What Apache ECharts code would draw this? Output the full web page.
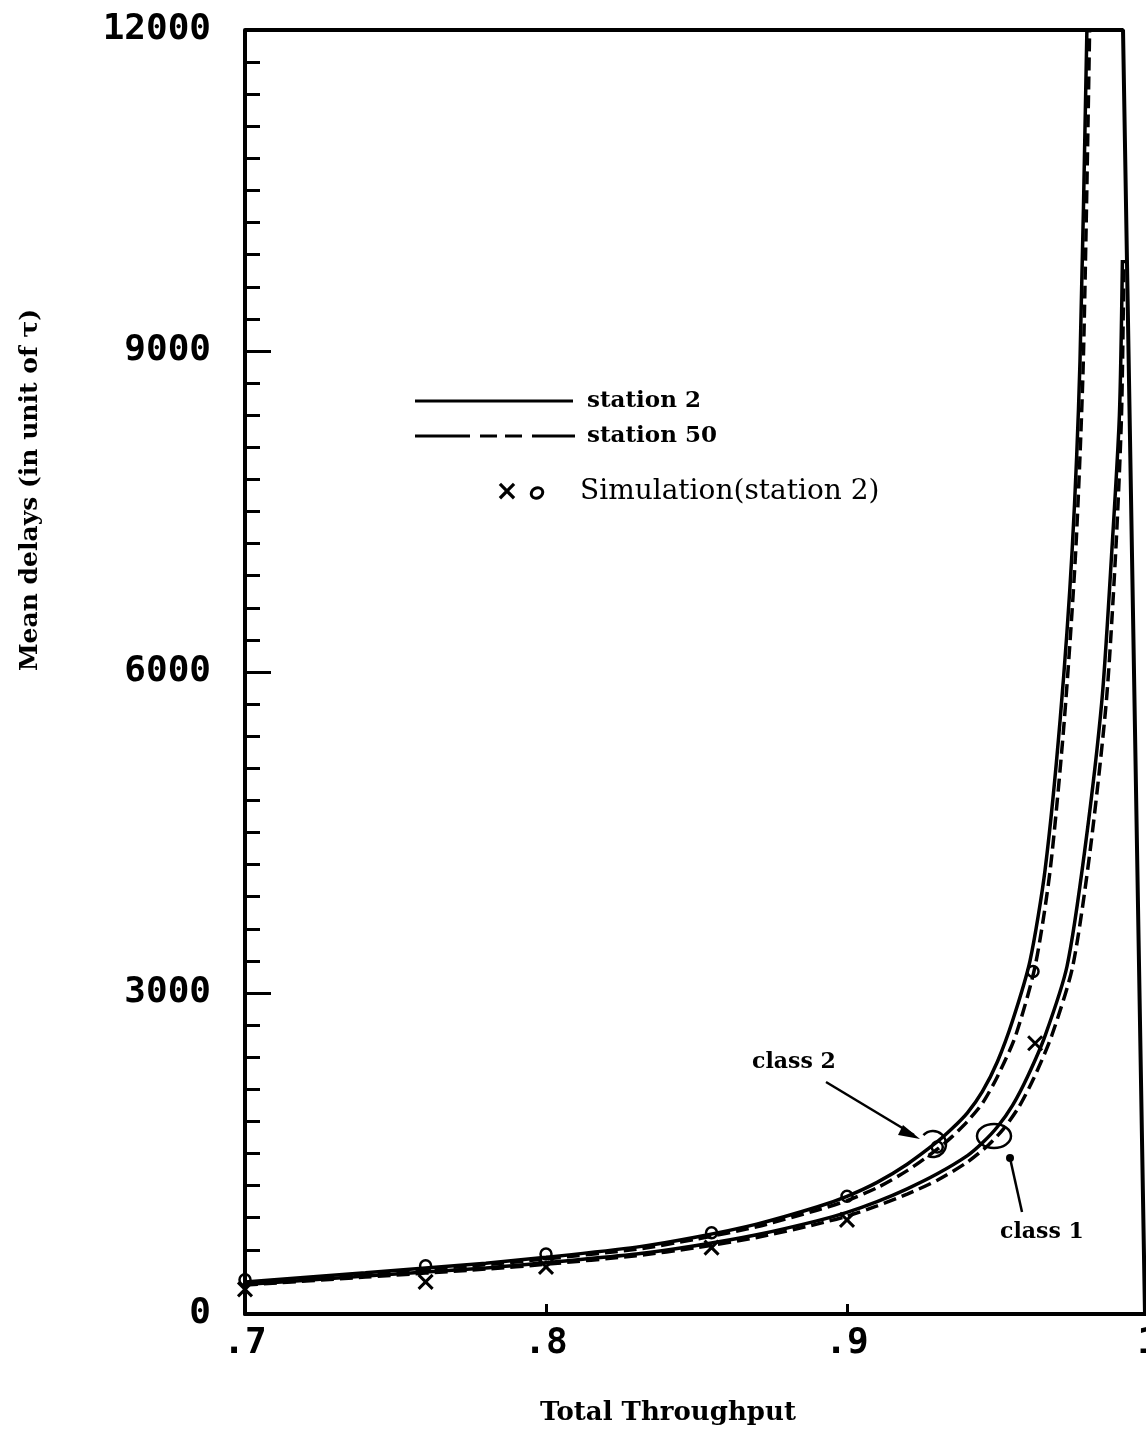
<!DOCTYPE html>
<html>
<head>
<meta charset="utf-8">
<script src="https://cdn.jsdelivr.net/npm/echarts@6/dist/echarts.min.js"></script>
<style>
  html, body { margin: 0; padding: 0; background: #ffffff; }
  #chart { width: 1146px; height: 1429px; }
</style>
</head>
<body>
<div id="chart"></div>
<script>
// Axis tick labels
const xTickLabels = ['.7', '.8', '.9', '1'];
const yTickLabels = ['0', '3000', '6000', '9000', '12000'];

// Class 2, station 2 (analytic, solid)
const c2s2Throughput = [0.70, 0.74, 0.78, 0.80, 0.83, 0.85, 0.87, 0.89, 0.90, 0.91, 0.92, 0.93, 0.935, 0.94, 0.945, 0.95, 0.955, 0.9608, 0.9658, 0.9708, 0.9748, 0.9774, 0.9797];
const c2s2Delay      = [300, 385, 475, 530, 625, 720, 840, 1000, 1100, 1230, 1400, 1610, 1735, 1880, 2080, 2360, 2740, 3300, 4150, 5550, 7140, 8900, 12000];

// Class 2, station 50 (analytic, dashed)
const c2s50Throughput = [0.70, 0.74, 0.78, 0.80, 0.83, 0.85, 0.87, 0.89, 0.90, 0.91, 0.92, 0.93, 0.935, 0.94, 0.945, 0.95, 0.956, 0.9625, 0.9675, 0.9722, 0.976, 0.9785, 0.9806];
const c2s50Delay      = [290, 375, 460, 515, 605, 700, 815, 970, 1060, 1180, 1340, 1540, 1660, 1800, 1970, 2220, 2600, 3250, 4150, 5550, 7140, 8900, 12000];

// Class 1, station 2 (analytic, solid)
const c1s2Throughput = [0.70, 0.74, 0.78, 0.80, 0.83, 0.85, 0.87, 0.89, 0.90, 0.91, 0.92, 0.93, 0.94, 0.945, 0.95, 0.955, 0.96, 0.9658, 0.9731, 0.979, 0.9847, 0.988, 0.9905, 0.9915];
const c1s2Delay      = [275, 355, 430, 480, 560, 640, 740, 870, 950, 1050, 1170, 1310, 1480, 1600, 1750, 1950, 2220, 2600, 3250, 4336, 5740, 7140, 8400, 9850];

// Class 1, station 50 (analytic, dashed)
const c1s50Throughput = [0.70, 0.74, 0.78, 0.80, 0.83, 0.85, 0.87, 0.89, 0.90, 0.91, 0.92, 0.93, 0.94, 0.947, 0.952, 0.957, 0.962, 0.968, 0.975, 0.9808, 0.9862, 0.9893, 0.9912, 0.992];
const c1s50Delay      = [270, 345, 420, 465, 545, 620, 715, 840, 915, 1010, 1120, 1250, 1420, 1580, 1730, 1930, 2200, 2600, 3250, 4336, 5740, 7140, 8400, 9850];

// Simulation results for station 2
const simC2Throughput = [0.70, 0.76, 0.80, 0.855, 0.90, 0.93, 0.9618];
const simC2Delay      = [320, 450, 560, 760, 1100, 1560, 3200];
const simC1Throughput = [0.70, 0.76, 0.80, 0.855, 0.90, 0.9625];
const simC1Delay      = [230, 300, 440, 620, 880, 2530];

// Plot frame: top edge and the slanted right edge
const frameThroughput = [0.70, 0.9917, 0.9990];
const frameDelay      = [12000, 12000, 0];

const pairs = (xs, ys) => xs.map((x, i) => [x, ys[i]]);

const chart = echarts.init(document.getElementById('chart'), null, { renderer: 'canvas' });

const tickFont = { fontFamily: 'DejaVu Sans Mono', fontWeight: 'bold', fontSize: 36, color: '#000' };
const crossPath = 'path://M0,0L10,10M10,0L0,10';
const serifBold = (size) => 'bold ' + size + 'px "DejaVu Serif", serif';

const curveLine = (name, data, dashed) => ({
  name, type: 'line', data, showSymbol: false, symbol: 'none',
  smooth: 0.25,
  silent: true, z: 3,
  lineStyle: { color: '#000', width: 3.5, type: dashed ? [13, 6] : 'solid' }
});

const option = {
  backgroundColor: '#ffffff',
  animation: false,
  grid: { left: 245, top: 30, width: 903, height: 1284, containLabel: false, outerBoundsMode: 'none' },
  xAxis: {
    type: 'value', min: 0.7, max: 1.0, interval: 0.1,
    axisLine: { show: true, onZero: false, lineStyle: { color: '#000', width: 4 } },
    axisTick: { show: true, inside: true, length: 10, lineStyle: { color: '#000', width: 3 } },
    splitLine: { show: false },
    axisLabel: Object.assign({}, tickFont, {
      margin: 12,
      formatter: (v) => xTickLabels[Math.round(v * 10) - 7]
    })
  },
  yAxis: {
    type: 'value', min: 0, max: 12000, interval: 3000,
    axisLine: { show: true, onZero: false, lineStyle: { color: '#000', width: 4 } },
    axisTick: { show: true, inside: true, length: 26, lineStyle: { color: '#000', width: 3 } },
    minorTick: { show: true, splitNumber: 10, length: 15, lineStyle: { color: '#000', width: 3 } },
    splitLine: { show: false },
    axisLabel: Object.assign({}, tickFont, {
      margin: 34,
      formatter: (v) => yTickLabels[Math.round(v / 3000)]
    })
  },
  series: [
    {
      name: 'frame', type: 'line', data: pairs(frameThroughput, frameDelay),
      symbol: 'none', clip: false, silent: true, z: 2,
      lineStyle: { color: '#000', width: 4 }
    },
    curveLine('class 2 station 2', pairs(c2s2Throughput, c2s2Delay), false),
    curveLine('class 2 station 50', pairs(c2s50Throughput, c2s50Delay), true),
    curveLine('class 1 station 2', pairs(c1s2Throughput, c1s2Delay), false),
    curveLine('class 1 station 50', pairs(c1s50Throughput, c1s50Delay), true),
    {
      name: 'simulation class 2', type: 'scatter', data: pairs(simC2Throughput, simC2Delay),
      symbol: 'circle', symbolSize: 11, silent: true, z: 4,
      itemStyle: { color: 'rgba(0,0,0,0)', borderColor: '#000', borderWidth: 2.5, opacity: 1 }
    },
    {
      name: 'simulation class 1', type: 'scatter', data: pairs(simC1Throughput, simC1Delay),
      symbol: crossPath, symbolSize: 14, silent: true, z: 4,
      itemStyle: { color: 'rgba(0,0,0,0)', borderColor: '#000', borderWidth: 3, opacity: 1 }
    }
  ],
  graphic: [
    // y-axis title
    {
      type: 'text', x: 30, y: 490, rotation: Math.PI / 2, silent: true,
      style: {
        text: 'Mean delays (in unit of \u03c4)', fill: '#000', font: serifBold(25),
        align: 'center', verticalAlign: 'middle'
      }
    },
    // x-axis title
    {
      type: 'text', x: 668, y: 1413, silent: true,
      style: {
        text: 'Total Throughput', fill: '#000', font: serifBold(26),
        align: 'center', verticalAlign: 'middle'
      }
    },
    // legend: solid line
    { type: 'line', silent: true, shape: { x1: 415, y1: 401, x2: 573, y2: 401 }, style: { stroke: '#000', lineWidth: 3 } },
    { type: 'text', x: 587, y: 401, silent: true,
      style: { text: 'station 2', fill: '#000', font: serifBold(23), verticalAlign: 'middle' } },
    // legend: long-short-long dashed line
    { type: 'line', silent: true, shape: { x1: 415, y1: 436, x2: 470, y2: 436 }, style: { stroke: '#000', lineWidth: 3 } },
    { type: 'line', silent: true, shape: { x1: 480, y1: 436, x2: 497, y2: 436 }, style: { stroke: '#000', lineWidth: 3 } },
    { type: 'line', silent: true, shape: { x1: 505, y1: 436, x2: 522, y2: 436 }, style: { stroke: '#000', lineWidth: 3 } },
    { type: 'line', silent: true, shape: { x1: 532, y1: 436, x2: 575, y2: 436 }, style: { stroke: '#000', lineWidth: 3 } },
    { type: 'text', x: 587, y: 436, silent: true,
      style: { text: 'station 50', fill: '#000', font: serifBold(23), verticalAlign: 'middle' } },
    // legend: simulation symbols
    { type: 'text', x: 507, y: 493, silent: true,
      style: { text: '\u00d7', fill: '#000', font: 'bold 28px "DejaVu Sans", sans-serif', align: 'center', verticalAlign: 'middle' } },
    { type: 'ellipse', silent: true, shape: { cx: 537, cy: 493, rx: 6, ry: 5 }, rotation: 0.5, originX: 537, originY: 493,
      style: { fill: 'none', stroke: '#000', lineWidth: 3 } },
    { type: 'text', x: 580, y: 492, silent: true,
      style: { text: 'Simulation(station 2)', fill: '#000', font: '28px "DejaVu Serif", serif', verticalAlign: 'middle' } },
    // class 2 annotation
    { type: 'text', x: 752, y: 1062, silent: true,
      style: { text: 'class 2', fill: '#000', font: serifBold(22), verticalAlign: 'middle' } },
    { type: 'polyline', silent: true, shape: { points: [[826, 1082], [914, 1135]] }, style: { stroke: '#000', lineWidth: 2.5 } },
    { type: 'polygon', silent: true, shape: { points: [[920, 1139], [903, 1125], [898, 1135]] }, style: { fill: '#000' } },
    { type: 'arc', silent: true, shape: { cx: 933, cy: 1144, r: 13, startAngle: -2.4, endAngle: 2.0 },
      style: { fill: 'none', stroke: '#000', lineWidth: 2.5 } },
    // class 1 annotation
    { type: 'text', x: 1000, y: 1232, silent: true,
      style: { text: 'class 1', fill: '#000', font: serifBold(22), verticalAlign: 'middle' } },
    { type: 'ellipse', silent: true, shape: { cx: 994, cy: 1136, rx: 17, ry: 12 },
      style: { fill: 'none', stroke: '#000', lineWidth: 2.5 } },
    { type: 'polyline', silent: true, shape: { points: [[1010, 1158], [1022, 1212]] }, style: { stroke: '#000', lineWidth: 2.5 } },
    { type: 'circle', silent: true, shape: { cx: 1010, cy: 1158, r: 4 }, style: { fill: '#000' } }
  ]
};

chart.setOption(option);
</script>
</body>
</html>
